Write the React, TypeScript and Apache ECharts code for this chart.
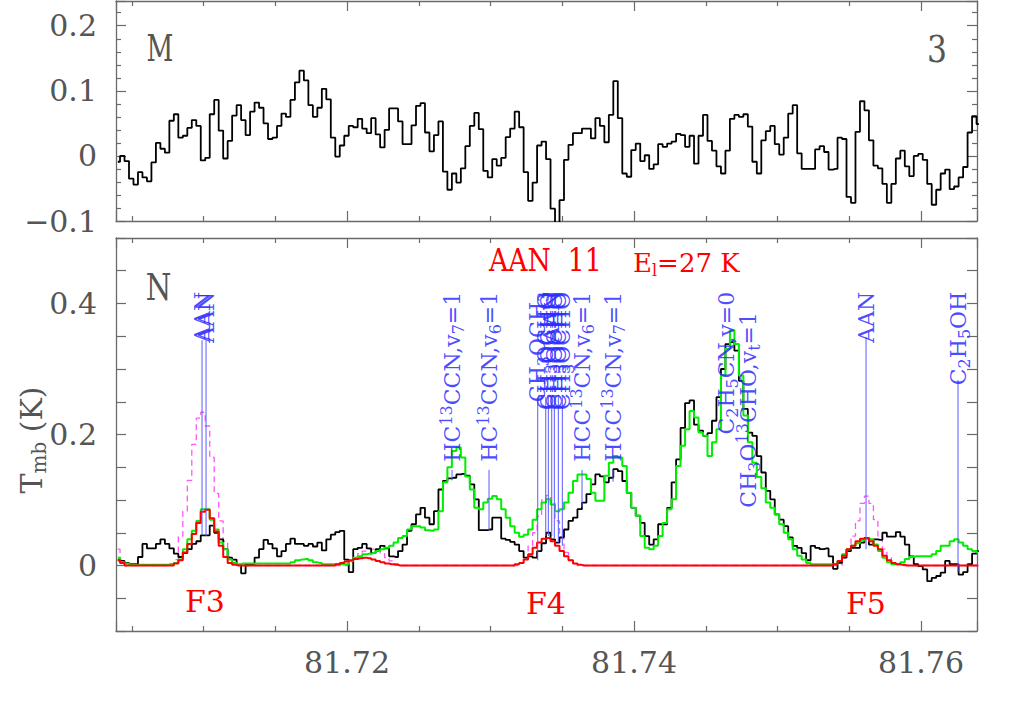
import React, { useEffect, useRef } from "react";
import * as echarts from "echarts";

// ---- frequency grid (GHz) ----
const X_MIN = 81.7039;
const X_MAX = 81.7639;
const CH0_FREQ = 81.704025; // centre of first channel
const CH_WIDTH = 0.0003125; // channel width

// ---- upper panel (M 3): observed spectrum, K ----
const topObserved = [
  -0.009, 0.0, -0.008, -0.035, -0.044, -0.025, -0.033, -0.039, -0.01, 0.02,
  0.011, 0.005, 0.054, 0.064, 0.028, 0.031, 0.043, 0.055, 0.046, -0.007,
  -0.003, 0.064, 0.086, 0.039, -0.004, 0.023, 0.062, 0.078, 0.055, 0.032,
  0.068, 0.082, 0.074, 0.05, 0.026, 0.028, 0.046, 0.065, 0.06, 0.086,
  0.113, 0.131, 0.116, 0.078, 0.06, 0.074, 0.103, 0.087, 0.028, -0.001,
  0.016, 0.031, 0.046, 0.044, 0.057, 0.042, 0.035, 0.058, 0.033, 0.013,
  0.04, 0.073, 0.073, 0.053, 0.018, 0.018, 0.047, 0.077, 0.081, 0.036,
  0.007, 0.032, 0.053, -0.024, -0.052, -0.027, -0.041, -0.019, 0.015, 0.046,
  0.066, 0.041, -0.023, -0.033, -0.005, -0.015, -0.003, 0.029, 0.042, 0.068,
  0.044, -0.025, -0.069, -0.041, 0.016, 0.022, -0.005, -0.081, -0.13, -0.068,
  -0.006, 0.017, 0.035, 0.035, 0.042, 0.042, 0.027, 0.058, 0.046, 0.021,
  0.063, 0.115, 0.058, -0.027, -0.032, 0.009, 0.019, -0.008, 0.001, -0.02,
  -0.013, 0.018, 0.014, 0.019, 0.022, 0.034, 0.032, 0.014, 0.031, -0.012,
  0.031, 0.063, 0.023, 0.008, -0.016, -0.027, 0.008, 0.057, 0.063, 0.06,
  0.064, 0.045, -0.009, -0.027, 0.024, 0.038, 0.046, 0.018, 0.002, 0.028,
  0.065, 0.078, 0.004, -0.02, -0.02, -0.02, 0.01, 0.015, 0.006, -0.021,
  -0.02, 0.028, 0.026, -0.063, -0.072, 0.037, 0.084, 0.07, 0.024, -0.015,
  -0.019, -0.043, -0.072, -0.043, -0.004, 0.008, -0.016, -0.031, 0.0, 0.003,
  -0.006, -0.043, -0.075, -0.052, -0.027, -0.021, -0.051, -0.047, -0.033, -0.017,
  0.036, 0.061, 0.049,
];

// ---- lower panel (N): observed spectrum ----
const bottomObserved = [
  0.008, 0.007, 0.004, 0.002, 0.002, 0.013, 0.033, 0.026, 0.026, 0.033,
  0.04, 0.033, 0.026, 0.018, 0.013, 0.019, 0.025, 0.033, 0.037, 0.046,
  0.046, 0.061, 0.05, 0.04, 0.025, 0.012, 0.009, 0.001, -0.012, 0.002,
  0.002, 0.012, 0.025, 0.039, 0.033, 0.026, 0.014, 0.022, 0.033, 0.041,
  0.033, 0.033, 0.03, 0.033, 0.029, 0.035, 0.023, 0.04, 0.047, 0.051,
  0.053, 0.009, -0.01, 0.025, 0.027, 0.033, 0.026, 0.019, 0.025, 0.03,
  0.026, 0.014, 0.013, 0.022, 0.032, 0.053, 0.063, 0.078, 0.088, 0.073,
  0.063, 0.083, 0.116, 0.129, 0.133, 0.134, 0.139, 0.14, 0.137, 0.124,
  0.101, 0.054, 0.054, 0.055, 0.073, 0.073, 0.041, 0.039, 0.036, 0.032,
  0.022, 0.012, 0.014, 0.012, 0.022, 0.034, 0.05, 0.04, 0.035, 0.043,
  0.055, 0.068, 0.073, 0.086, 0.096, 0.109, 0.124, 0.139, 0.136, 0.127,
  0.134, 0.147, 0.144, 0.129, 0.111, 0.088, 0.076, 0.065, 0.045, 0.032,
  0.04, 0.063, 0.063, 0.088, 0.127, 0.162, 0.21, 0.248, 0.252, 0.215,
  0.206, 0.198, 0.202, 0.221, 0.257, 0.3, 0.338, 0.341, 0.328, 0.282,
  0.239, 0.203, 0.198, 0.167, 0.142, 0.114, 0.101, 0.078, 0.07, 0.06,
  0.043, 0.03, 0.027, 0.019, 0.008, 0.03, 0.027, 0.025, 0.026, 0.014,
  -0.005, 0.004, 0.012, 0.022, 0.027, 0.027, 0.035, 0.042, 0.032, 0.04,
  0.039, 0.05, 0.044, 0.044, 0.051, 0.044, 0.032, 0.014, 0.002, -0.001,
  -0.006, -0.024, -0.019, -0.016, -0.011, 0.007, 0.002, 0.002, -0.014, -0.01,
  0.002, 0.018, 0.022,
];

// ---- lower panel: full LTE model (green) ----
const modelAll = [
  0.012, 0.005, 0.003, 0.001, 0.001, 0.001, 0.001, 0.001, 0.001, 0.001,
  0.001, 0.001, 0.001, 0.004, 0.009, 0.025, 0.04, 0.053, 0.068, 0.086,
  0.086, 0.07, 0.055, 0.035, 0.025, 0.009, 0.004, 0.002, 0.003, 0.003,
  0.003, 0.003, 0.003, 0.003, 0.003, 0.003, 0.003, 0.003, 0.003, 0.005,
  0.008, 0.009, 0.01, 0.008, 0.005, 0.004, 0.002, 0.002, 0.002, 0.002,
  0.002, 0.002, 0.007, 0.012, 0.014, 0.017, 0.018, 0.019, 0.022, 0.025,
  0.027, 0.03, 0.035, 0.042, 0.045, 0.055, 0.06, 0.06, 0.058, 0.054,
  0.053, 0.055, 0.083, 0.127, 0.15, 0.175, 0.18, 0.165, 0.136, 0.116,
  0.088, 0.086, 0.096, 0.102, 0.106, 0.101, 0.086, 0.073, 0.06, 0.05,
  0.044, 0.047, 0.055, 0.07, 0.086, 0.096, 0.101, 0.093, 0.083, 0.086,
  0.096, 0.111, 0.129, 0.139, 0.139, 0.132, 0.111, 0.099, 0.099, 0.137,
  0.157, 0.167, 0.165, 0.152, 0.111, 0.088, 0.076, 0.045, 0.027, 0.025,
  0.03, 0.045, 0.065, 0.086, 0.101, 0.152, 0.183, 0.208, 0.236, 0.226,
  0.203, 0.198, 0.167, 0.188, 0.208, 0.29, 0.331, 0.359, 0.338, 0.29,
  0.229, 0.188, 0.157, 0.135, 0.118, 0.096, 0.088, 0.078, 0.063, 0.05,
  0.04, 0.025, 0.015, 0.009, 0.004, 0.002, 0.002, 0.002, 0.002, 0.002,
  0.002, 0.007, 0.017, 0.025, 0.03, 0.034, 0.038, 0.041, 0.04, 0.032,
  0.022, 0.012, 0.005, 0.002, 0.002, 0.005, 0.01, 0.013, 0.014, 0.014,
  0.014, 0.014, 0.017, 0.022, 0.03, 0.03, 0.037, 0.04, 0.035, 0.03,
  0.025, 0.022, 0.02,
];

// ---- lower panel: AAN model (red) ----
const modelAAN = [
  0.008, 0.004, 0, 0, 0, 0, 0, 0, 0, 0,
  0, 0, 0, 0.003, 0.008, 0.02, 0.033, 0.048, 0.065, 0.082,
  0.085, 0.072, 0.052, 0.03, 0.013, 0.004, 0.001, 0, 0, 0,
  0, 0, 0, 0, 0, 0, 0, 0, 0, 0,
  0, 0, 0, 0, 0, 0, 0, 0, 0, 0.002,
  0.004, 0.006, 0.008, 0.01, 0.011, 0.012, 0.011, 0.009, 0.007, 0.005,
  0.003, 0.002, 0.001, 0, 0, 0, 0, 0, 0, 0,
  0, 0, 0, 0, 0, 0, 0, 0, 0, 0,
  0, 0, 0, 0, 0, 0, 0, 0, 0, 0.002,
  0.004, 0.009, 0.017, 0.027, 0.035, 0.041, 0.042, 0.037, 0.03, 0.022,
  0.014, 0.008, 0.003, 0.001, 0, 0, 0, 0, 0, 0,
  0, 0, 0, 0, 0, 0, 0, 0, 0, 0,
  0, 0, 0, 0, 0, 0, 0, 0, 0, 0,
  0, 0, 0, 0, 0, 0, 0, 0, 0, 0,
  0, 0, 0, 0, 0, 0, 0, 0, 0, 0,
  0, 0, 0, 0, 0, 0, 0, 0, 0, 0,
  0.002, 0.007, 0.015, 0.025, 0.03, 0.037, 0.041, 0.042, 0.037, 0.03,
  0.025, 0.015, 0.008, 0.004, 0.002, 0.001, 0, 0, 0, 0,
  0, 0, 0, 0, 0, 0, 0, 0, 0, 0,
  0, 0, 0,
];

// ---- lower panel: AAN optically thin model (magenta dashed) ----
const modelAANThin = [
  0.025, 0.006, 0, 0, 0, 0, 0, 0, 0, 0,
  0, 0, 0.003, 0.009, 0.045, 0.083, 0.13, 0.185, 0.225, 0.234,
  0.213, 0.165, 0.11, 0.068, 0.037, 0.014, 0.004, 0, 0, 0,
  0, 0, 0, 0, 0, 0, 0, 0, 0, 0,
  0, 0, 0, 0, 0, 0, 0, 0, 0, 0,
  0, 0, 0.006, 0.012, 0.018, 0.022, 0.025, 0.025, 0.022, 0.018,
  0.012, 0.007, 0.003, 0, 0, 0, 0, 0, 0, 0,
  0, 0, 0, 0, 0, 0, 0, 0, 0, 0,
  0, 0, 0, 0, 0, 0, 0, 0, 0, 0,
  0.004, 0.012, 0.03, 0.05, 0.075, 0.1, 0.107, 0.095, 0.068, 0.042,
  0.02, 0.008, 0.003, 0, 0, 0, 0, 0, 0, 0,
  0, 0, 0, 0, 0, 0, 0, 0, 0, 0,
  0, 0, 0, 0, 0, 0, 0, 0, 0, 0,
  0, 0, 0, 0, 0, 0, 0, 0, 0, 0,
  0, 0, 0, 0, 0, 0, 0, 0, 0, 0,
  0, 0, 0, 0, 0, 0, 0, 0, 0, 0,
  0, 0, 0.012, 0.025, 0.045, 0.068, 0.095, 0.106, 0.095, 0.07,
  0.045, 0.025, 0.012, 0.005, 0.002, 0, 0, 0, 0, 0,
  0, 0, 0, 0, 0, 0, 0, 0, 0, 0,
  0, 0, 0,
];

// ---- line identifications (blue) ----
const lineFreq = [
  81.709895, 81.710174, 81.727317, 81.729895, 81.733289, 81.733847, 81.734028,
  81.734265, 81.734446, 81.734725, 81.735003, 81.736376, 81.738537, 81.746411,
  81.747944, 81.756167, 81.762578,
];
const lineLabel = [
  "AAN", "AAN",
  "HC{p|13}CCN,v{b|7}=1", "HC{p|13}CCN,v{b|6}=1",
  "CH{b|3}OCH{b|3}", "CH{b|3}OCHO", "CH{b|3}OCHO", "AAN", "CH{b|3}OCHO", "CH{b|3}OCHO", "CH{b|3}OCHO",
  "HCC{p|13}CN,v{b|6}=1", "HCC{p|13}CN,v{b|7}=1",
  "C{b|2}H{b|5}CN,v=0", "CH{b|3}O{p|13}CHO,v{b|t}=1",
  "AAN", "C{b|2}H{b|5}OH",
];
const lineStart = [0.344, 0.344, 0.146, 0.146, 0.257, 0.257, 0.257, 0.257, 0.257, 0.257, 0.257, 0.146, 0.146, 0.192, 0.069, 0.349, 0.283];
const lineEnd = [0.047, 0.045, 0.13, 0.054, 0.008, 0.045, 0.045, 0.045, 0.042, 0.035, 0.03, 0.089, 0.128, 0.192, 0.069, 0.025, -0.01];
const labelTop = [0.418, 0.418, 0.418, 0.418, 0.418, 0.418, 0.418, 0.418, 0.418, 0.418, 0.418, 0.418, 0.418, 0.418, 0.387, 0.418, 0.418];

const SERIF = "DejaVu Serif";
const FRAME = "#6a6a6a";
const LABEL = "#555555";
const BLUE_TEXT = "rgba(45,45,255,0.85)";
const BLUE_LINE = "#5a5aff";

const blueRich = {
  p: { fontSize: 16, lineHeight: 16, verticalAlign: "top", fill: BLUE_TEXT, fontFamily: SERIF },
  b: { fontSize: 16, lineHeight: 16, verticalAlign: "bottom", fill: BLUE_TEXT, fontFamily: SERIF },
};

function toXY(values: number[]) {
  return values.map((v, i) => [CH0_FREQ + i * CH_WIDTH, v]);
}

function xLabel(v: number) {
  const k = Math.round(v / 0.02);
  if (Math.abs(v - k * 0.02) > 1e-7) return "";
  return (k * 0.02).toFixed(2);
}
function yLabelTop(v: number) {
  const r = Math.round(v * 1000) / 1000;
  if (Math.abs(r * 10 - Math.round(r * 10)) > 1e-6) return "";
  if (r === 0) return "0";
  return (r < 0 ? "\u2212" : "") + Math.abs(r).toFixed(1);
}
function yLabelBottom(v: number) {
  const r = Math.round(v * 1000) / 1000;
  if (r < 0) return "";
  if (Math.abs(r * 5 - Math.round(r * 5)) > 1e-6) return "";
  if (r === 0) return "0";
  return r.toFixed(1);
}

export default function App() {
  const ref = useRef<HTMLDivElement>(null);

  useEffect(() => {
    const chart = echarts.init(ref.current as HTMLDivElement, null, { renderer: "svg" });

    const xAxisDef = (gridIndex: number, position: string, showLabel: boolean) => ({
      type: "value",
      gridIndex,
      position,
      min: X_MIN,
      max: X_MAX,
      minInterval: 0.02,
      maxInterval: 0.02,
      splitNumber: 3,
      axisLine: { show: true, onZero: false, lineStyle: { color: FRAME, width: 1.3 } },
      axisTick: { show: true, inside: true, length: 10, lineStyle: { color: FRAME, width: 1.2 } },
      minorTick: { show: true, splitNumber: 4, length: 5, lineStyle: { color: FRAME, width: 1.2 } },
      splitLine: { show: false },
      minorSplitLine: { show: false },
      axisLabel: {
        show: showLabel,
        formatter: xLabel,
        fontFamily: SERIF,
        fontSize: 30,
        color: LABEL,
        margin: 16,
      },
    });

    const yAxisTop = (position: string, showLabel: boolean) => ({
      type: "value",
      gridIndex: 0,
      position,
      min: -0.1,
      max: 0.238,
      interval: 0.1,
      axisLine: { show: true, onZero: false, lineStyle: { color: FRAME, width: 1.3 } },
      axisTick: { show: true, inside: true, length: 10, lineStyle: { color: FRAME, width: 1.2 } },
      minorTick: { show: true, splitNumber: 5, length: 5, lineStyle: { color: FRAME, width: 1.2 } },
      splitLine: { show: false },
      axisLabel: {
        show: showLabel,
        formatter: yLabelTop,
        fontFamily: SERIF,
        fontSize: 30,
        color: LABEL,
        margin: 19,
      },
    });

    const yAxisBottom = (position: string, showLabel: boolean) => ({
      type: "value",
      gridIndex: 1,
      position,
      min: -0.1,
      max: 0.5,
      interval: 0.05,
      axisLine: { show: true, onZero: false, lineStyle: { color: FRAME, width: 1.3 } },
      axisTick: { show: true, inside: true, length: 10, lineStyle: { color: FRAME, width: 1.2 } },
      splitLine: { show: false },
      axisLabel: {
        show: showLabel,
        formatter: yLabelBottom,
        fontFamily: SERIF,
        fontSize: 30,
        color: LABEL,
        margin: 19,
      },
    });

    const annotationData = lineFreq.map((f, i) => [f, lineStart[i], lineEnd[i], labelTop[i], i]);

    const stepLine = (name: string, data: number[], xi: number, yi: number, color: string, width: number, dashed = false) => ({
      name,
      type: "line",
      xAxisIndex: xi,
      yAxisIndex: yi,
      step: "middle",
      symbol: "none",
      showSymbol: false,
      silent: true,
      data: toXY(data),
      lineStyle: { color, width, type: dashed ? [6, 4] : "solid" },
    });

    const option: any = {
      animation: false,
      backgroundColor: "#ffffff",
      grid: [
        { left: 116, top: 1, width: 861, height: 220, containLabel: false, outerBoundsMode: "none" },
        { left: 116, top: 238, width: 861, height: 393, containLabel: false, outerBoundsMode: "none" },
      ],
      xAxis: [
        xAxisDef(0, "bottom", false),
        xAxisDef(0, "top", false),
        xAxisDef(1, "bottom", true),
        xAxisDef(1, "top", false),
      ],
      yAxis: [
        yAxisTop("left", true),
        yAxisTop("right", false),
        yAxisBottom("left", true),
        yAxisBottom("right", false),
      ],
      series: [
        stepLine("top observed", topObserved, 0, 0, "#000000", 1.8),
        stepLine("AAN thin", modelAANThin, 2, 2, "#ff55ff", 1.3, true),
        stepLine("observed", bottomObserved, 2, 2, "#000000", 1.8),
        stepLine("all species", modelAll, 2, 2, "#00ee00", 2),
        stepLine("AAN", modelAAN, 2, 2, "#ff0000", 2),
        {
          name: "lines",
          type: "custom",
          xAxisIndex: 2,
          yAxisIndex: 2,
          silent: true,
          clip: false,
          z: 5,
          data: annotationData,
          renderItem: (_params: any, api: any) => {
            const idx = api.value(4);
            const f = api.value(0);
            const a = api.coord([f, api.value(1)]);
            const b = api.coord([f, api.value(2)]);
            const t = api.coord([f, api.value(3)]);
            const children: any[] = [];
            if (api.value(1) > api.value(2)) {
              children.push({
                type: "line",
                shape: { x1: a[0], y1: a[1], x2: b[0], y2: b[1] },
                style: { stroke: BLUE_LINE, lineWidth: 1 },
              });
            }
            children.push({
              type: "text",
              x: t[0],
              y: t[1],
              rotation: Math.PI / 2,
              style: {
                text: lineLabel[idx],
                rich: blueRich,
                fill: BLUE_TEXT,
                fontFamily: SERIF,
                fontSize: 22,
                lineHeight: 28,
                align: "right",
                verticalAlign: "middle",
              },
            });
            return { type: "group", children };
          },
        },
      ],
      graphic: [
        { type: "text", x: 160, y: 48, scaleX: 0.69, style: { text: "M", fontFamily: SERIF, fontSize: 38, fill: LABEL, align: "center", verticalAlign: "middle" } },
        { type: "text", x: 937, y: 49, scaleX: 0.85, style: { text: "3", fontFamily: SERIF, fontSize: 37, fill: LABEL, align: "center", verticalAlign: "middle" } },
        { type: "text", x: 158.5, y: 287, scaleX: 0.79, style: { text: "N", fontFamily: SERIF, fontSize: 37, fill: LABEL, align: "center", verticalAlign: "middle" } },
        { type: "text", x: 489, y: 260, scaleX: 0.86, style: { text: "AAN  11", fontFamily: SERIF, fontSize: 31, fill: "#ff0000", align: "left", verticalAlign: "middle" } },
        {
          type: "text", x: 633, y: 263,
          style: {
            text: "E{l|l}=27 K",
            rich: { l: { fontSize: 16, lineHeight: 16, verticalAlign: "bottom", fill: "#ff0000", fontFamily: SERIF } },
            fontFamily: SERIF, fontSize: 26, lineHeight: 30, fill: "#ff0000", align: "left", verticalAlign: "middle",
          },
        },
        { type: "text", x: 205, y: 601, style: { text: "F3", fontFamily: SERIF, fontSize: 30, fill: "#ff0000", align: "center", verticalAlign: "middle" } },
        { type: "text", x: 546, y: 603, style: { text: "F4", fontFamily: SERIF, fontSize: 30, fill: "#ff0000", align: "center", verticalAlign: "middle" } },
        { type: "text", x: 866, y: 603, style: { text: "F5", fontFamily: SERIF, fontSize: 30, fill: "#ff0000", align: "center", verticalAlign: "middle" } },
        {
          type: "text", x: 31, y: 440, rotation: Math.PI / 2,
          style: {
            text: "T{s|mb} (K)",
            rich: { s: { fontSize: 20, lineHeight: 20, verticalAlign: "bottom", fill: LABEL, fontFamily: SERIF } },
            fontFamily: SERIF, fontSize: 30, lineHeight: 36, fill: LABEL, align: "center", verticalAlign: "middle",
          },
        },
      ],
    };

    chart.setOption(option);
    return () => {
      chart.dispose();
    };
  }, []);

  return (
    <div
      ref={ref}
      style={{ position: "absolute", left: 0, top: 0, width: 1025, height: 717, background: "#fff" }}
    />
  );
}
